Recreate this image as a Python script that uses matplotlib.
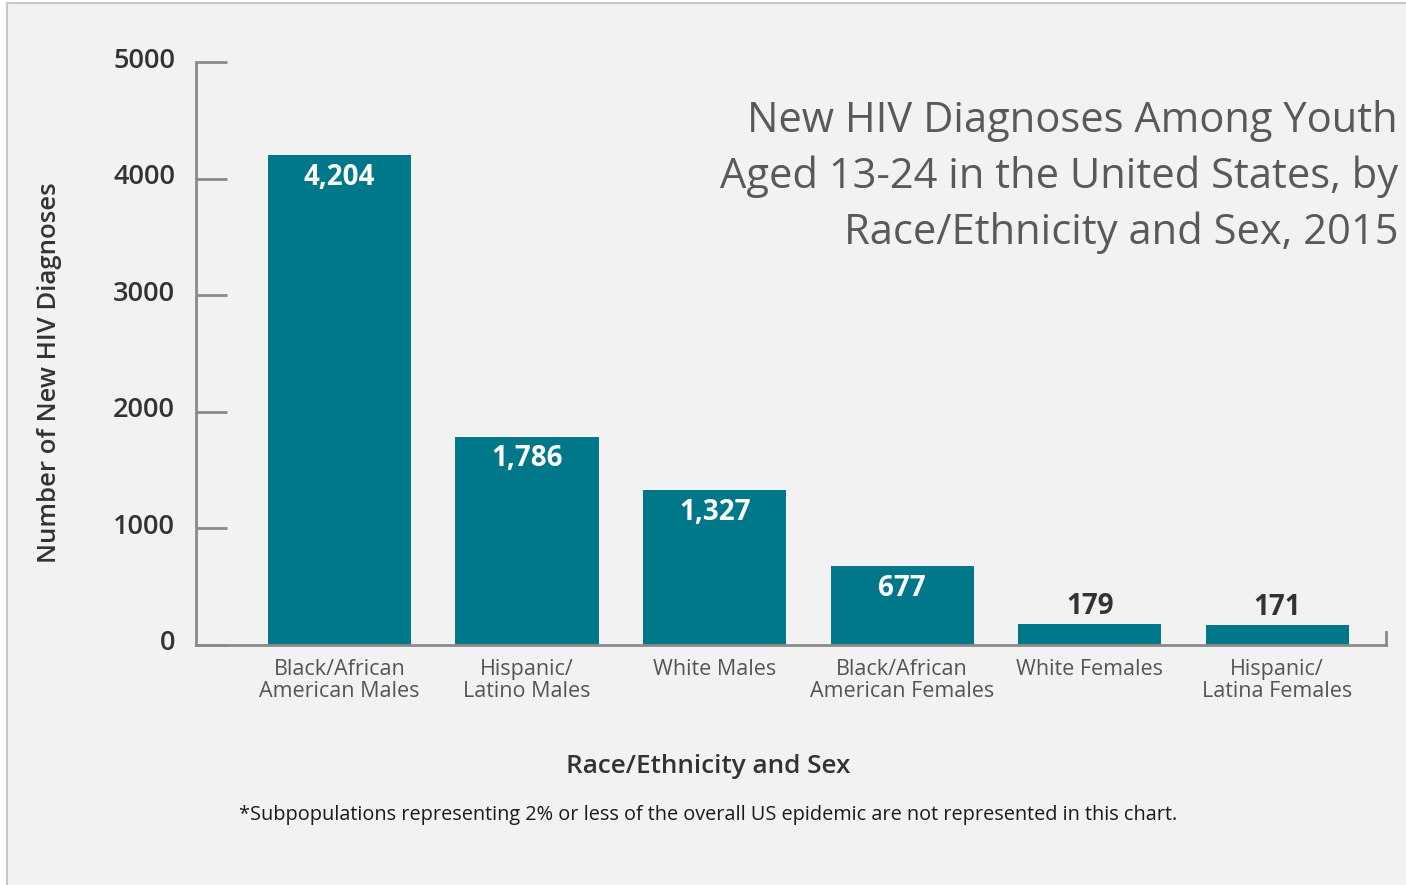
import matplotlib.pyplot as plt
from matplotlib.patches import Rectangle
from matplotlib.transforms import ScaledTranslation
import numpy as np

# data
groups = ['Black/African\nAmerican Males', 'Hispanic/\nLatino Males', 'White Males',
          'Black/African\nAmerican Females', 'White Females', 'Hispanic/\nLatina Females']
diagnoses = [4204, 1786, 1327, 677, 179, 171]
yticks = [0, 1000, 2000, 3000, 4000, 5000]

title = 'New HIV Diagnoses Among Youth\nAged 13-24 in the United States, by\nRace/Ethnicity and Sex, 2015'
note = '*Subpopulations representing 2% or less of the overall US epidemic are not represented in this chart.'

bar_color = '#00788a'
axis_color = '#8a8a8a'

plt.rcParams['font.family'] = ['Open Sans', 'DejaVu Sans']

fig = plt.figure(figsize=(14.06, 8.85), dpi=100)
fig.patch.set_facecolor('white')
# light gray panel with thin border
fig.patches.append(Rectangle((7 / 1406, -0.01), 1.0, 1 - 3 / 885 + 0.01, transform=fig.transFigure,
                             facecolor='#f2f2f2', edgecolor='#c8c8c8', linewidth=1.5, zorder=-10))

ax = fig.add_axes([196 / 1406, 1 - 645 / 885, (1386 - 196) / 1406, (645 - 62) / 885])
ax.set_facecolor('none')
ax.set_zorder(2)

x = np.arange(len(groups))
ax.bar(x, diagnoses, width=0.763, color=bar_color, zorder=2)

ax.set_xlim(-0.765, 5.58)
ax.set_ylim(0, 5000)

ax.spines['top'].set_visible(False)
for s in ['left', 'bottom', 'right']:
    ax.spines[s].set_color(axis_color)
    ax.spines[s].set_linewidth(2)
ax.spines['right'].set_bounds(0, 110)

ax.set_yticks(yticks)
ax.set_yticklabels([str(t) for t in yticks], fontsize=19.5, fontweight='semibold', color='#333333')
ax.tick_params(axis='y', direction='in', length=22, width=2, color=axis_color, pad=15)
# labels sit a little above their ticks
shift = ScaledTranslation(0, 5 / 100, fig.dpi_scale_trans)
for lbl in ax.get_yticklabels():
    lbl.set_transform(lbl.get_transform() + shift)

ax.set_xticks(x)
ax.set_xticklabels(groups, fontsize=15.5, color='#555555', linespacing=1.1)
ax.tick_params(axis='x', length=0, pad=10)

ax.set_ylabel('Number of New HIV Diagnoses', fontsize=18.5, fontweight='semibold', color='#333333')
ax.yaxis.set_label_coords(-0.113, 0.468)
ax.set_xlabel('Race/Ethnicity and Sex', fontsize=18.8, fontweight='semibold', color='#333333')
ax.xaxis.set_label_coords((708 - 196) / 1190, -0.187)

for xi, v in zip(x, diagnoses):
    txt = f'{v:,}'
    if v > 500:
        ax.annotate(txt, (xi, v), xytext=(0, -16), textcoords='offset points', ha='center',
                    va='center', color='white', fontsize=20, fontweight='bold')
    else:
        ax.annotate(txt, (xi, v), xytext=(0, 13), textcoords='offset points', ha='center',
                    va='center', color='#333333', fontsize=20, fontweight='bold')

fig.text(1398 / 1406, 1 - 177 / 885, title, ha='right', va='center', fontsize=30,
         color='#595959', linespacing=1.43)
fig.text(708 / 1406, 1 - 815 / 885, note, ha='center', va='center', fontsize=14.3,
         color='#1a1a1a')

fig.savefig('out.png', dpi=100, facecolor=fig.get_facecolor())
